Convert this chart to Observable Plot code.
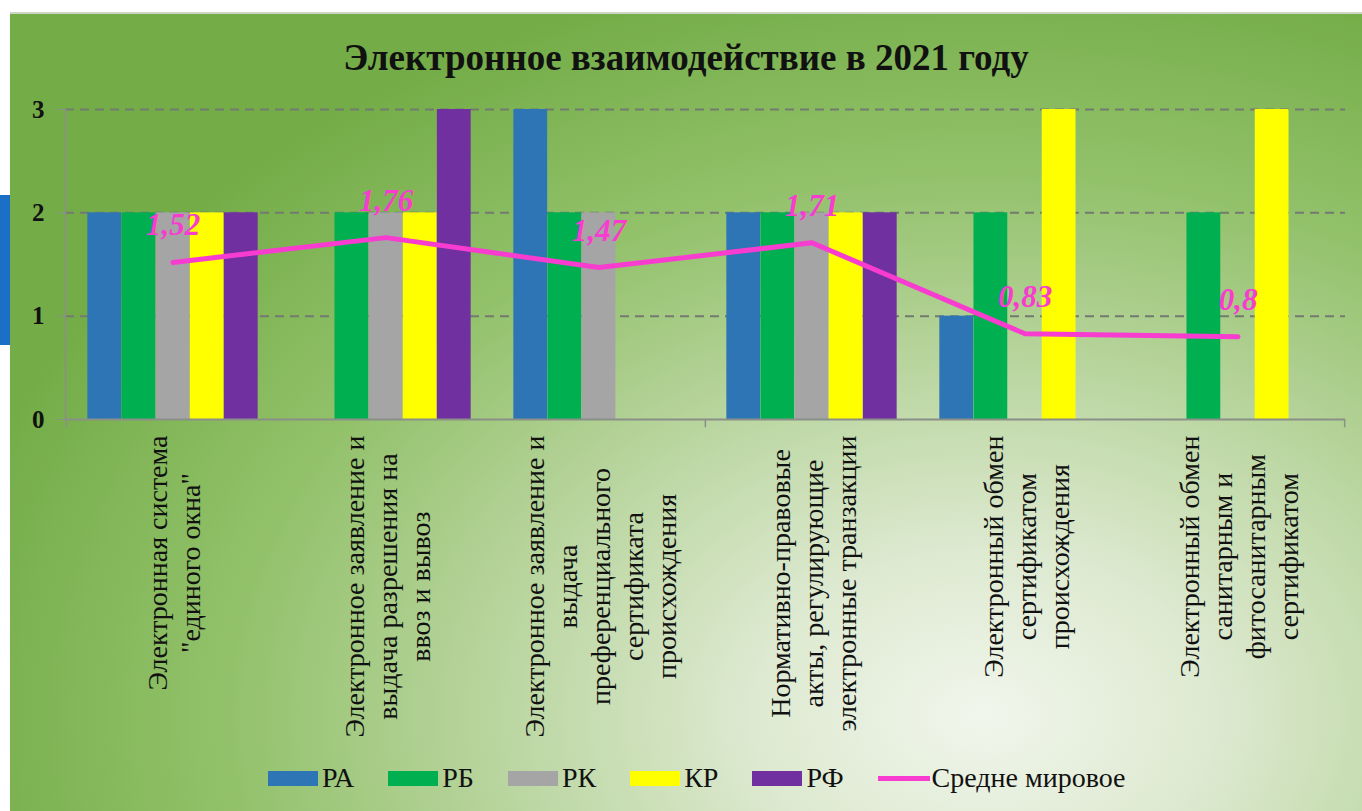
<!DOCTYPE html>
<html>
<head>
<meta charset="utf-8">
<script src="https://cdn.jsdelivr.net/npm/d3@7"></script>
<script src="https://cdn.jsdelivr.net/npm/@observablehq/plot@0.6"></script>
<style>
  html, body { margin: 0; padding: 0; background: #ffffff; }
  body { width: 1362px; height: 811px; overflow: hidden; position: relative; font-family: 'Liberation Serif', 'Times New Roman', serif; }
  #panel {
    position: absolute; left: 10px; top: 12px; width: 1352px; height: 799px;
    border-top: 2px solid #cdd5c9; box-sizing: border-box;
    background: radial-gradient(ellipse 78% 95% at 72% 88%, #f1f6ec 0%, #dde9d0 22%, #b7d49c 48%, #92c16a 72%, #74ad48 100%);
  }
  #bluebar { position: absolute; left: 0; top: 195px; width: 10px; height: 150px; background: #1a6fc6; }
  #title {
    position: absolute; top: 24px; left: 0; width: 100%; text-align: center;
    font-family: 'Liberation Serif', serif;
    font-weight: bold; font-size: 37px; line-height: 40px; color: #111;
  }
  #chart { position: absolute; top: 85px; left: 0; }
  #legend {
    position: absolute; top: 749px; left: 258px; display: flex; align-items: center;
    font-family: 'Liberation Serif', serif;
    font-size: 28px; line-height: 30px; color: #111;
  }
  .item { display: flex; align-items: center; margin-right: 34px; }
  .sw { width: 50px; height: 15px; margin-right: 4px; }
  .ln { width: 52px; height: 5px; margin-right: 2px; }
</style>
</head>
<body>
<div id="bluebar"></div>
<div id="panel">
  <div id="title"></div>
  <div id="chart"></div>
  <div id="legend"></div>
</div>
<script>
// ---- data ----
const titleText = "Электронное взаимодействие в 2021 году";
const categories = [
  "Электронная система\n\"единого окна\"",
  "Электронное заявление и\nвыдача разрешения на\nввоз и вывоз",
  "Электронное заявление и\nвыдача\nпреференциального\nсертификата\nпроисхождения",
  "Нормативно-правовые\nакты, регулирующие\nэлектронные транзакции",
  "Электронный обмен\nсертификатом\nпроисхождения",
  "Электронный обмен\nсанитарным и\nфитосанитарным\nсертификатом"
];
const seriesNames = ["РА", "РБ", "РК", "КР", "РФ"];
const seriesColors = ["#2e75b6", "#00b050", "#a5a5a5", "#ffff00", "#7030a0"];
const valuesRA = [2, 0, 3, 2, 1, 0];
const valuesRB = [2, 2, 2, 2, 2, 2];
const valuesRK = [2, 2, 2, 2, 0, 0];
const valuesKR = [2, 2, 0, 2, 3, 3];
const valuesRF = [2, 3, 0, 2, 0, 0];
const avgName = "Средне мировое";
const avgColor = "#f83ccf";
const worldAvg = [1.52, 1.76, 1.47, 1.71, 0.83, 0.8];
const avgLabels = ["1,52", "1,76", "1,47", "1,71", "0,83", "0,8"];
const yTicks = [0, 1, 2, 3];

// ---- layout ----
const W = 1352, H = 653, mL = 55, mR = 17, mT = 10, mB = 333;
const bw = (W - mL - mR) / categories.length;
const groupW = bw * 0.8;
const barW = groupW / seriesNames.length;
const pad = (bw - groupW) / 2;
const FONT = "'Liberation Serif', serif";
const LABEL_SIZE = 28;

document.getElementById("title").textContent = titleText;

const allValues = [valuesRA, valuesRB, valuesRK, valuesKR, valuesRF];
const barMarks = seriesNames.map((s, i) => {
  const rows = categories.map((c, j) => ({cat: c, value: allValues[i][j]})).filter(d => d.value > 0);
  return Plot.barY(rows, {
    x: "cat", y: "value", fill: seriesColors[i],
    insetLeft: pad + i * barW, insetRight: bw - pad - (i + 1) * barW
  });
});

const avgRows = categories.map((c, j) => ({cat: c, avg: worldAvg[j], label: avgLabels[j]}));

// measure label lengths to top-align the rotated, centre-justified blocks
const ctx = document.createElement("canvas").getContext("2d");
ctx.font = `${LABEL_SIZE}px 'Liberation Serif'`;
const labelMarks = categories.map(c => {
  const L = Math.max(...c.split("\n").map(t => ctx.measureText(t).width));
  return Plot.text([c], {
    x: d => d, y: () => 0, text: d => d, rotate: -90,
    textAnchor: "middle", lineAnchor: "middle", lineHeight: 1.18,
    fontSize: LABEL_SIZE, fontFamily: FONT, fill: "#111", dy: 16 + L / 2
  });
});

const chart = Plot.plot({
  width: W, height: H,
  marginLeft: mL, marginRight: mR, marginTop: mT, marginBottom: mB,
  style: {background: "transparent", overflow: "visible", fontFamily: "Liberation Serif"},
  x: {domain: categories, padding: 0, axis: null},
  y: {domain: [0, 3], axis: null},
  marks: [
    Plot.ruleY([1, 2, 3], {stroke: "#737a70", strokeWidth: 2, strokeDasharray: "9,6"}),
    ...barMarks,
    Plot.frame({anchor: "left", stroke: "#8a8f88", strokeWidth: 1.5}),
    Plot.ruleY([0], {stroke: "#8a8f88", strokeWidth: 2}),
    Plot.ruleX([categories[0], categories[3]], {x: d => d, dx: -bw / 2, y1: 0, y2: -0.08, stroke: "#8a8f88", strokeWidth: 1.5}),
    Plot.ruleX([categories[5]], {x: d => d, dx: bw / 2, y1: 0, y2: -0.08, stroke: "#8a8f88", strokeWidth: 1.5}),
    Plot.axisY({ticks: yTicks, tickSize: 8, tickPadding: 13, fontSize: 25, fontWeight: "bold", fontFamily: FONT, stroke: "#8a8f88", fill: "#111", tickFormat: d => String(d)}),
    Plot.line(avgRows, {x: "cat", y: "avg", stroke: avgColor, strokeWidth: 5}),
    Plot.text(avgRows, {x: "cat", y: "avg", text: "label", dy: -37, fill: avgColor, fontSize: 31, fontFamily: FONT, fontStyle: "italic", fontWeight: "bold"}),
    ...labelMarks
  ]
});
document.getElementById("chart").appendChild(chart);

// legend
const legend = document.getElementById("legend");
seriesNames.forEach((s, i) => {
  const it = document.createElement("div"); it.className = "item";
  it.innerHTML = `<div class="sw" style="background:${seriesColors[i]}"></div><span>${s}</span>`;
  legend.appendChild(it);
});
const li = document.createElement("div"); li.className = "item";
li.innerHTML = `<div class="ln" style="background:${avgColor}"></div><span>${avgName}</span>`;
legend.appendChild(li);
</script>
</body>
</html>
